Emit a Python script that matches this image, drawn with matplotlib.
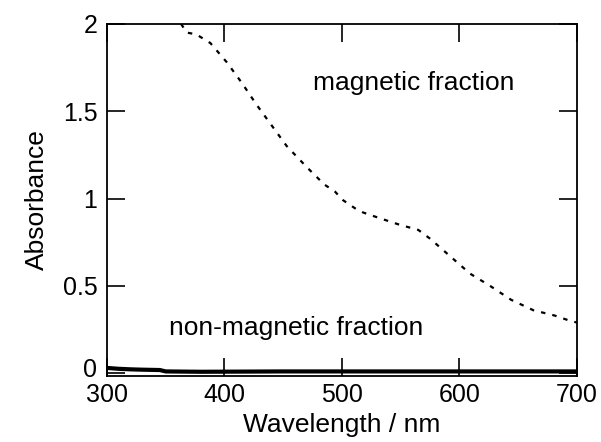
import numpy as np
import matplotlib
matplotlib.use("Agg")
import matplotlib.pyplot as plt
import matplotlib.transforms as mtransforms
from matplotlib.ticker import FuncFormatter

# magnetic fraction (dashed)
mag_wl = np.array([363, 368, 376, 388, 402, 415, 427, 440, 453, 470, 485, 494,
                   501, 512, 518, 531, 549, 565, 575, 592, 609, 626, 644, 663,
                   681, 694, 700])
mag_abs = np.array([2.00, 1.95, 1.94, 1.89, 1.78, 1.66, 1.54, 1.42, 1.30, 1.18,
                    1.08, 1.04, 0.99, 0.94, 0.92, 0.89, 0.85, 0.82, 0.77, 0.67,
                    0.57, 0.50, 0.42, 0.36, 0.33, 0.30, 0.29])

# non-magnetic fraction (solid)
non_wl = np.array([300, 310, 320, 330, 345, 350, 380, 415, 450, 500, 550, 600, 650, 700])
non_abs = np.array([0.030, 0.025, 0.022, 0.020, 0.018, 0.010, 0.008, 0.009,
                    0.010, 0.010, 0.010, 0.010, 0.010, 0.010])

plt.rcParams['font.family'] = ['Liberation Sans', 'DejaVu Sans']
fs = 19

fig = plt.figure(figsize=(6.01, 4.42), dpi=100)
ax = fig.add_axes([0.178, 0.149, 0.782, 0.797])

ax.plot(mag_wl, mag_abs, color="black", lw=1.6, linestyle=(0, (2.0, 3.2)))
ax.plot(non_wl, non_abs, color="black", lw=3)

ax.text(475, 1.66, "magnetic fraction", fontsize=fs, va="center")
ax.text(353, 0.26, "non-magnetic fraction", fontsize=fs, va="center")

ax.set_xlim(300, 700)
ax.set_ylim(-0.017, 2)
ax.set_xticks([300, 400, 500, 600, 700])
ax.set_yticks([0, 0.5, 1, 1.5, 2])
ax.yaxis.set_major_formatter(FuncFormatter(lambda v, p: "%g" % v))
ax.tick_params(direction="in", length=13, width=1.2, labelsize=18,
               top=True, right=True)
ax.tick_params(axis="x", pad=5)
ax.tick_params(axis="y", pad=7)
for s in ax.spines.values():
    s.set_linewidth(1.3)

# lift the "0" label a little so it clears "300"
fig.canvas.draw()
lab0 = ax.get_yticklabels()[0]
lab0.set_transform(lab0.get_transform() +
                   mtransforms.ScaledTranslation(0, 4 / 72, fig.dpi_scale_trans))

ax.set_xlabel("Wavelength / nm", fontsize=fs, labelpad=4)
ax.set_ylabel("Absorbance", fontsize=fs, labelpad=10)

fig.savefig("out.png", dpi=100)
